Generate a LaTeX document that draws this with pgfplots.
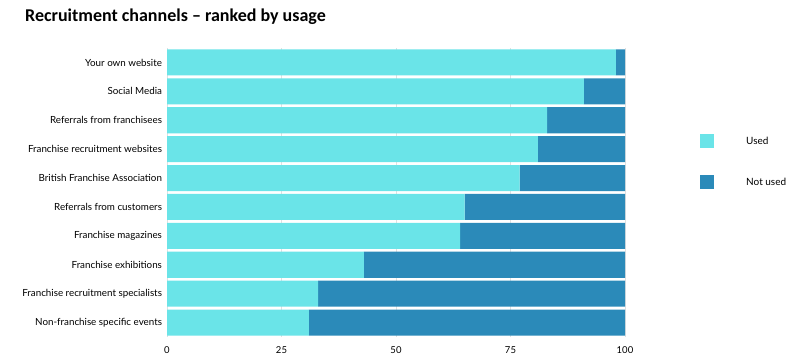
\documentclass[border=0pt]{standalone}
\usepackage{fontspec}
\setmainfont{Lato}
\newfontfamily\titlefont{Carlito}
\usepackage{pgfplots}
\pgfplotsset{compat=1.18}
\definecolor{used}{HTML}{6AE4E8}
\definecolor{notused}{HTML}{2B8AB9}
\begin{document}
\begin{tikzpicture}[x=1pt,y=1pt]
\useasboundingbox (0,0) rectangle (790,358);
\node[anchor=west,inner sep=0pt,font=\titlefont\bfseries\fontsize{18}{21}\selectfont] at (25,341) {Recruitment channels – ranked by usage};
\begin{axis}[at={(167pt,21pt)}, anchor=south west, scale only axis,
  width=458pt, height=289pt,
  xbar stacked, bar width=0.9,
  y dir=reverse, ymin=-0.5, ymax=9.5, xmin=0, xmax=100,
  ytick={0,...,9},
  yticklabels={Your own website, Social Media, Referrals from franchisees, Franchise recruitment websites, British Franchise Association, Referrals from customers, Franchise magazines, Franchise exhibitions, Franchise recruitment specialists, Non-franchise specific events},
  xtick={0,25,50,75,100},
  /pgf/number format/assume math mode=true,
  axis line style={draw=none}, major tick length=0pt,
  xmajorgrids, grid style={black!12, line width=0.8pt},
  yticklabel style={font=\fontsize{9.8}{11}\selectfont, xshift=-1.5pt},
  xticklabel style={font=\fontsize{9.5}{11}\selectfont, yshift=-6pt},
  legend style={at={(1,0.607)}, anchor=west, xshift=72pt, draw=none, fill=none,
    row sep=27pt, font=\fontsize{10}{12}\selectfont, cells={anchor=west}},
  legend image code/.code={\fill[#1] (0pt,-7pt) rectangle (14pt,7pt); \path[draw=none,fill=none] (0pt,0pt) -- (44pt,0pt);},
]
\addplot[fill=used, draw=none] coordinates {(98,0) (91,1) (83,2) (81,3) (77,4) (65,5) (64,6) (43,7) (33,8) (31,9)};
\addplot[fill=notused, draw=none] coordinates {(2,0) (9,1) (17,2) (19,3) (23,4) (35,5) (36,6) (57,7) (67,8) (69,9)};
\legend{Used, Not used}
\end{axis}
\end{tikzpicture}
\end{document}
